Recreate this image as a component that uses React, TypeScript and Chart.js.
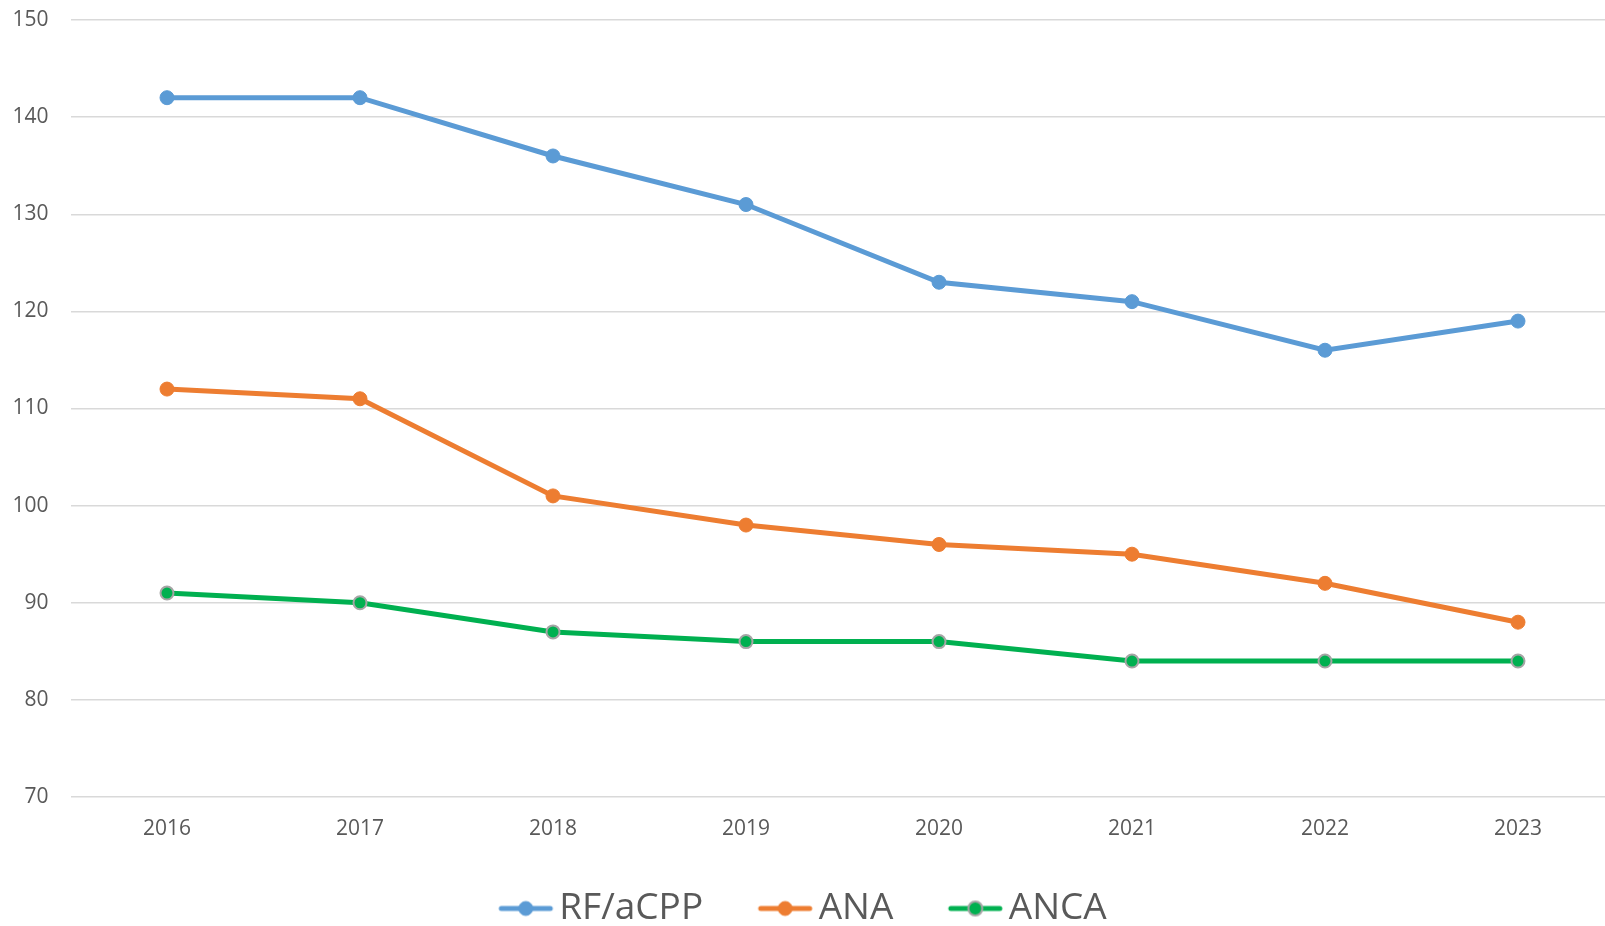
import React, { useEffect, useRef } from "react";
import { Chart, registerables } from "chart.js";

Chart.register(...registerables);

const categories = ["2016", "2017", "2018", "2019", "2020", "2021", "2022", "2023"];
const rfValues = [142, 142, 136, 131, 123, 121, 116, 119];
const anaValues = [112, 111, 101, 98, 96, 95, 92, 88];
const ancaValues = [91, 90, 87, 86, 86, 84, 84, 84];
const seriesNames = ["RF/aCPP", "ANA", "ANCA"];

const BLUE = "#5b9bd5";
const ORANGE = "#ed7d31";
const GREEN = "#00b050";
const GREY_BORDER = "#a5a5a5";
const TEXT = "#595959";
const FONT = "'Open Sans', 'Noto Sans', sans-serif";

function makeMarker(line: string, fill: string, border: string, borderW: number) {
  const c = document.createElement("canvas");
  c.width = 118;
  c.height = 22;
  const ctx = c.getContext("2d")!;
  ctx.strokeStyle = line;
  ctx.lineWidth = 5;
  ctx.lineCap = "round";
  ctx.beginPath();
  ctx.moveTo(63, 11);
  ctx.lineTo(112, 11);
  ctx.stroke();
  ctx.beginPath();
  ctx.arc(87.5, 11, 7, 0, Math.PI * 2);
  ctx.fillStyle = fill;
  ctx.fill();
  ctx.lineWidth = borderW;
  ctx.strokeStyle = border;
  ctx.stroke();
  return c;
}

export default function App() {
  const ref = useRef<HTMLCanvasElement>(null);
  useEffect(() => {
    const markers = [
      makeMarker(BLUE, BLUE, BLUE, 1),
      makeMarker(ORANGE, ORANGE, ORANGE, 1),
      makeMarker(GREEN, GREEN, GREY_BORDER, 2),
    ];
    const shiftPlugin = {
      id: "legendShift",
      afterLayout(chart: any) {
        const l = chart.legend;
        if (l) {
          l.left -= 27;
          l.right -= 27;
          l.top += 11;
          l.bottom += 11;
        }
      },
    };
    const chart = new Chart(ref.current!, {
      type: "line",
      data: {
        labels: categories,
        datasets: [
          {
            label: seriesNames[0],
            data: rfValues,
            borderColor: BLUE,
            backgroundColor: BLUE,
            pointBackgroundColor: BLUE,
            pointBorderColor: BLUE,
            borderWidth: 5,
            pointRadius: 7,
            pointBorderWidth: 1,
            tension: 0,
          },
          {
            label: seriesNames[1],
            data: anaValues,
            borderColor: ORANGE,
            backgroundColor: ORANGE,
            pointBackgroundColor: ORANGE,
            pointBorderColor: ORANGE,
            borderWidth: 5,
            pointRadius: 7,
            pointBorderWidth: 1,
            tension: 0,
          },
          {
            label: seriesNames[2],
            data: ancaValues,
            borderColor: GREEN,
            backgroundColor: GREEN,
            pointBackgroundColor: GREEN,
            pointBorderColor: GREY_BORDER,
            borderWidth: 5,
            pointRadius: 6.5,
            pointBorderWidth: 2,
            tension: 0,
          },
        ],
      },
      options: {
        responsive: false,
        animation: false,
        layout: { padding: { left: 0, right: 10.5, top: 20, bottom: 0 } },
        plugins: {
          tooltip: { enabled: false },
          legend: {
            position: "bottom",
            labels: {
              usePointStyle: true,
              pointStyleWidth: 87,
              padding: 10,
              color: TEXT,
              font: { family: FONT, size: 37 },
              generateLabels: (chart: any) => {
                const items = Chart.defaults.plugins.legend.labels.generateLabels(chart);
                return items.map((it: any, i: number) => ({ ...it, pointStyle: markers[i] }));
              },
            },
          },
        },
        scales: {
          x: {
            offset: true,
            grid: { display: false },
            border: { display: false },
            ticks: { color: TEXT, font: { family: FONT, size: 21 }, padding: 11, maxRotation: 0 },
            afterFit: (s: any) => {
              s.height = 72;
            },
          },
          y: {
            min: 70,
            max: 150,
            grid: { color: "#d9d9d9", lineWidth: 1.5, drawTicks: false },
            border: { display: false },
            ticks: { stepSize: 10, color: TEXT, font: { family: FONT, size: 21 }, padding: 22 },
            afterFit: (s: any) => {
              s.width = 70.5;
              s.paddingTop = 0;
              s.paddingBottom = 0;
            },
          },
        },
      },
      plugins: [shiftPlugin],
    } as any);
    return () => chart.destroy();
  }, []);
  return (
    <div style={{ position: "absolute", left: 0, top: 0, width: 1605, height: 926, overflow: "hidden", background: "#fff" }}>
      <canvas ref={ref} width={1625} height={926} style={{ display: "block" }} />
    </div>
  );
}
